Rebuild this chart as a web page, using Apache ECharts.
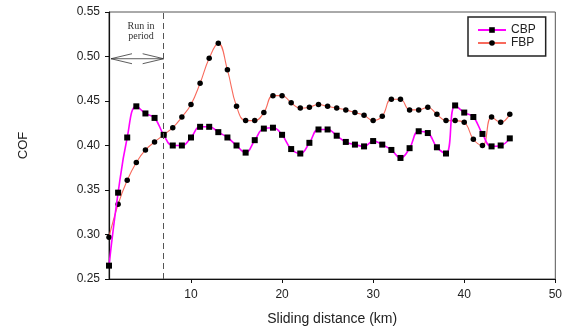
<!DOCTYPE html>
<html><head><meta charset="utf-8">
<script src="https://cdn.jsdelivr.net/npm/echarts@6/dist/echarts.min.js"></script>
<style>html,body{margin:0;padding:0;background:#fff}#c{width:565px;height:331px}</style>
</head><body><div id="c"></div><script>
const distance = [1,2,3,4,5,6,7,8,9,10,11,12,13,14,15,16,17,18,19,20,21,22,23,24,25,26,27,28,29,30,31,32,33,34,35,36,37,38,39,40,41,42,43,44,45];
const cbp = [0.265,0.347,0.409,0.444,0.436,0.431,0.412,0.400,0.400,0.409,0.421,0.421,0.415,0.409,0.400,0.392,0.406,0.419,0.420,0.412,0.396,0.391,0.403,0.418,0.418,0.411,0.404,0.401,0.399,0.405,0.401,0.395,0.386,0.397,0.416,0.414,0.398,0.391,0.445,0.437,0.432,0.413,0.399,0.400,0.408];
const fbp = [0.297,0.334,0.361,0.381,0.395,0.404,0.412,0.420,0.432,0.446,0.470,0.498,0.515,0.485,0.444,0.428,0.428,0.437,0.456,0.456,0.448,0.442,0.443,0.446,0.444,0.442,0.440,0.437,0.434,0.428,0.433,0.452,0.452,0.440,0.440,0.443,0.435,0.428,0.428,0.426,0.407,0.400,0.432,0.426,0.435];
const xTicks = [10,20,30,40,50];
const runInEnd = 7;
const arrowY = 0.4975;

const chart = echarts.init(document.getElementById('c'));
const font = 'Liberation Sans, Arial, sans-serif';
chart.setOption({
  animation: false,
  backgroundColor: '#fff',
  grid: {left: 109, right: 9, top: 12, bottom: 51, show: true, borderColor: '#555', borderWidth: 1},
  legend: {
    orient: 'vertical', left: 468, top: 17,
    padding: [7, 10, 7, 9], itemGap: 1, itemWidth: 28, itemHeight: 7,
    borderColor: '#222', borderWidth: 1.5, backgroundColor: '#fff',
    textStyle: {fontFamily: font, fontSize: 12, color: '#222'},
    data: ['CBP', 'FBP']
  },
  xAxis: {
    type: 'value', min: 1, max: 50,
    name: 'Sliding distance (km)', nameLocation: 'middle', nameGap: 33,
    nameTextStyle: {fontFamily: font, fontSize: 14, color: '#222'},
    axisLine: {lineStyle: {color: '#111', width: 1.2}},
    axisTick: {customValues: xTicks, length: 4, lineStyle: {color: '#111'}},
    axisLabel: {customValues: xTicks, fontFamily: font, fontSize: 12, color: '#222', margin: 10},
    splitLine: {show: false}
  },
  yAxis: {
    type: 'value', min: 0.25, max: 0.55, interval: 0.05,
    name: 'COF', nameLocation: 'middle', nameGap: 79,
    nameTextStyle: {fontFamily: font, fontSize: 13, color: '#222'},
    axisLine: {show: true, lineStyle: {color: '#111', width: 1.2}},
    axisTick: {show: true, length: 4, lineStyle: {color: '#111'}},
    axisLabel: {fontFamily: font, fontSize: 12, color: '#222', margin: 9, formatter: v => v.toFixed(2)},
    splitLine: {show: false}
  },
  series: [
    {
      name: 'CBP', type: 'line', smooth: 0.45,
      data: distance.map((d, i) => [d, cbp[i]]),
      symbol: 'rect', symbolSize: 6,
      itemStyle: {color: '#000'},
      lineStyle: {color: '#ff00ff', width: 1.6},
      z: 3
    },
    {
      name: 'FBP', type: 'line', smooth: 0.45,
      data: distance.map((d, i) => [d, fbp[i]]),
      symbol: 'circle', symbolSize: 5.5,
      itemStyle: {color: '#000'},
      lineStyle: {color: '#f86a5c', width: 1.1},
      z: 2,
      markLine: {
        silent: true, symbol: 'none', label: {show: false},
        lineStyle: {color: '#555', type: [6, 4], width: 1},
        data: [{xAxis: runInEnd}]
      }
    }
  ]
});

const p0 = chart.convertToPixel({gridIndex: 0}, [1, arrowY]);
const p1 = chart.convertToPixel({gridIndex: 0}, [runInEnd, arrowY]);
const L = 21, H = 5;
chart.setOption({
  graphic: [
    {type: 'line', shape: {x1: p0[0] + 2, y1: p0[1], x2: p1[0], y2: p1[1]}, style: {stroke: '#333', lineWidth: 0.8}},
    {type: 'polyline', shape: {points: [[p0[0] + 2 + L, p0[1] - H], [p0[0] + 2, p0[1]], [p0[0] + 2 + L, p0[1] + H]]}, style: {stroke: '#333', lineWidth: 0.8, fill: null}},
    {type: 'polyline', shape: {points: [[p1[0] - L, p1[1] - H], [p1[0], p1[1]], [p1[0] - L, p1[1] + H]]}, style: {stroke: '#333', lineWidth: 0.8, fill: null}},
    {type: 'text', x: 141, y: 21, style: {text: 'Run in\nperiod', font: '10px "Liberation Serif", serif', fill: '#333', align: 'center', lineHeight: 10}}
  ]
});
</script></body></html>
